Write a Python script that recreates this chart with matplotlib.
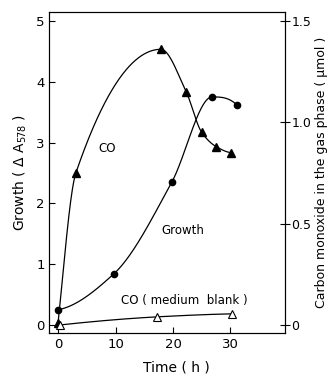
import numpy as np
import matplotlib
matplotlib.use("Agg")
import matplotlib.pyplot as plt

# Data
co_time = [0.0, 3.1, 17.9, 22.3, 25.0, 27.5, 30.1]
co_umol = [0.01, 0.75, 1.36, 1.15, 0.95, 0.88, 0.85]

growth_time = [0.0, 9.7, 19.8, 26.8, 31.1]
growth_a578 = [0.25, 0.84, 2.35, 3.75, 3.62]

blank_time = [0.3, 17.2, 30.3]
blank_umol = [0.0, 0.04, 0.055]

x_ticks = [0, 10, 20, 30]
left_ticks = [0, 1, 2, 3, 4, 5]
right_ticks = [0, 0.5, 1.0, 1.5]
right_labels = ["0", "0.5", "1.0", "1.5"]


def pchip(x, y, n=400):
    x = np.asarray(x, float)
    y = np.asarray(y, float)
    h = np.diff(x)
    d = np.diff(y) / h
    m = np.zeros_like(y)
    for k in range(1, len(x) - 1):
        if d[k - 1] * d[k] <= 0:
            m[k] = 0.0
        else:
            w1 = 2 * h[k] + h[k - 1]
            w2 = h[k] + 2 * h[k - 1]
            m[k] = (w1 + w2) / (w1 / d[k - 1] + w2 / d[k])

    def end(h0, h1, d0, d1):
        s = ((2 * h0 + h1) * d0 - h0 * d1) / (h0 + h1)
        if np.sign(s) != np.sign(d0):
            s = 0.0
        elif np.sign(d0) != np.sign(d1) and abs(s) > abs(3 * d0):
            s = 3 * d0
        return s

    if len(x) > 2:
        m[0] = end(h[0], h[1], d[0], d[1])
        m[-1] = end(h[-1], h[-2], d[-1], d[-2])
    else:
        m[:] = d[0]
    xs = np.linspace(x[0], x[-1], n)
    idx = np.clip(np.searchsorted(x, xs) - 1, 0, len(x) - 2)
    hh = h[idx]
    s = (xs - x[idx]) / hh
    h00 = 2 * s ** 3 - 3 * s ** 2 + 1
    h10 = s ** 3 - 2 * s ** 2 + s
    h01 = -2 * s ** 3 + 3 * s ** 2
    h11 = s ** 3 - s ** 2
    ys = h00 * y[idx] + h10 * hh * m[idx] + h01 * y[idx + 1] + h11 * hh * m[idx + 1]
    return xs, ys


plt.rcParams['font.family'] = ['DejaVu Sans']
fig = plt.figure(figsize=(3.28, 3.8), dpi=100)
ax = fig.add_axes([0.149, 0.124, 0.72, 0.845])
ax2 = ax.twinx()

ylo, yhi = -0.13, 5.15
ax.set_xlim(-1.6, 39.5)
ax.set_ylim(ylo, yhi)
ax2.set_ylim(ylo * 0.3, yhi * 0.3)

# Growth
gx, gy = pchip(growth_time, growth_a578)
ax.plot(gx, gy, color='black', lw=0.9)
ax.plot(growth_time, growth_a578, 'o', color='black', ms=4.5)

# CO
cx, cy = pchip(co_time, co_umol)
ax2.plot(cx, cy, color='black', lw=0.9)
ax2.plot(co_time, co_umol, '^', color='black', ms=6)

# Blank
bx, by = pchip(blank_time, blank_umol)
ax2.plot(bx, by, color='black', lw=0.9)
ax2.plot(blank_time, blank_umol, '^', mfc='white', mec='black', ms=6, mew=0.8)

ax.set_xticks(x_ticks)
ax.set_yticks(left_ticks)
ax2.set_yticks(right_ticks)
ax2.set_yticklabels(right_labels)

ax.tick_params(axis='x', direction='in', length=4, labelsize=9.5, pad=4)
ax.tick_params(axis='y', direction='in', length=4, labelsize=9.5, pad=3)
ax2.tick_params(axis='y', direction='inout', length=7, labelsize=9, pad=1)
ax.tick_params(top=False)

ax.set_xlabel("Time ( h )", fontsize=10, labelpad=7)
ax.xaxis.set_label_coords(0.54, -0.085)
ax.set_ylabel("Growth ( $\\Delta$ A$_{578}$ )", fontsize=10, labelpad=5)
ax2.set_ylabel("Carbon monoxide in the gas phase ( \u00b5mol )", fontsize=9, labelpad=3)

ax.text(8.6, 2.9, "CO", fontsize=8.5, ha='center', va='center')
ax.text(21.7, 1.55, "Growth", fontsize=8.5, ha='center', va='center')
ax.text(21.9, 0.4, "CO ( medium  blank )", fontsize=8.5, ha='center', va='center')

fig.savefig("out.png", dpi=100)
